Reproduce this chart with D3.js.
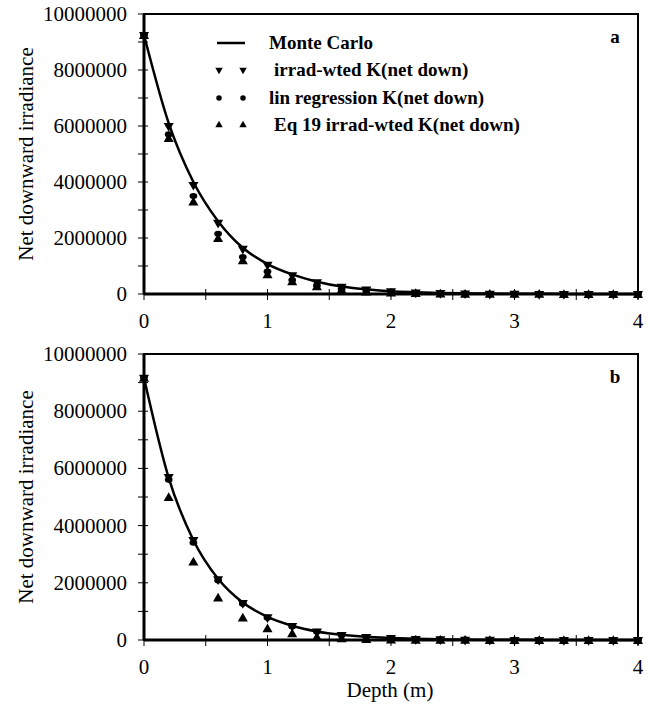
<!DOCTYPE html>
<html>
<head>
<meta charset="utf-8">
<script src="https://cdn.jsdelivr.net/npm/d3@7"></script>
<style>
  body { margin: 0; background: #fff; }
  svg { display: block; }
  text { font-family: "Liberation Serif", "Times New Roman", serif; fill: #000; }
</style>
</head>
<body>
<div id="chart"></div>
<script>
// depths (m)
var depth = [0, 0.2, 0.4, 0.6, 0.8, 1.0, 1.2, 1.4, 1.6, 1.8, 2.0, 2.2, 2.4, 2.6, 2.8, 3.0, 3.2, 3.4, 3.6, 3.8, 4.0];

// panel a
var mcA     = [9250000, 6100000, 4000000, 2600000, 1650000, 1070000, 700000, 440000, 270000, 170000, 100000, 65000, 40000, 25000, 15000, 10000, 6000, 4000, 2000, 1000, 1000];
var irradA  = [9250000, 6000000, 3900000, 2550000, 1620000, 1050000, 670000, 420000, 260000, 160000, 100000, 60000, 40000, 25000, 15000, 10000, 6000, 4000, 2000, 1000, 1000];
var linA    = [9250000, 5700000, 3500000, 2150000, 1320000, 800000, 500000, 300000, 180000, 110000, 65000, 40000, 24000, 14000, 8000, 5000, 3000, 2000, 1000, 1000, 0];
var eq19A   = [9250000, 5570000, 3300000, 2000000, 1200000, 700000, 450000, 270000, 160000, 90000, 50000, 30000, 18000, 10000, 6000, 4000, 2000, 1000, 1000, 0, 0];

// panel b
var mcB     = [9170000, 5670000, 3490000, 2140000, 1310000, 810000, 500000, 300000, 180000, 110000, 70000, 40000, 25000, 15000, 9000, 6000, 4000, 2000, 1000, 1000, 0];
var irradB  = [9170000, 5700000, 3500000, 2130000, 1300000, 800000, 490000, 300000, 180000, 110000, 70000, 40000, 25000, 15000, 9000, 6000, 4000, 2000, 1000, 1000, 0];
var linB    = [9170000, 5600000, 3400000, 2080000, 1270000, 780000, 470000, 290000, 170000, 105000, 65000, 38000, 23000, 14000, 8000, 5000, 3000, 2000, 1000, 0, 0];
var eq19B   = [9170000, 5000000, 2740000, 1480000, 780000, 410000, 230000, 110000, 60000, 30000, 15000, 8000, 4000, 2000, 1000, 0, 0, 0, 0, 0, 0];

var yTicks = [0, 2000000, 4000000, 6000000, 8000000, 10000000];
var xTicks = [0, 1, 2, 3, 4];
var legendLabels = ["Monte Carlo", "irrad-wted K(net down)", "lin regression K(net down)", "Eq 19 irrad-wted K(net down)"];

var svg = d3.select("#chart").append("svg")
    .attr("width", 666)
    .attr("height", 708);

var x = d3.scaleLinear().domain([0, 4]).range([144, 638]);

var symTri = d3.symbol().type(d3.symbolTriangle).size(44);
var symCircle = d3.symbol().type(d3.symbolCircle).size(36);

function drawPanel(top, bottom, mc, irrad, lin, eq19, letter, showLegend) {
  var y = d3.scaleLinear().domain([0, 10000000]).range([bottom, top]);
  var g = svg.append("g");

  // y ticks every 1e6, labels every 2e6
  var minorY = d3.range(0, 10000001, 1000000);
  g.selectAll(".ytick").data(minorY).enter().append("line")
      .attr("x1", x(0) - 6).attr("x2", x(0) + 4)
      .attr("y1", function(d) { return y(d); })
      .attr("y2", function(d) { return y(d); })
      .attr("stroke", "#000").attr("stroke-width", 1);
  g.selectAll(".ylab").data(yTicks).enter().append("text")
      .attr("x", x(0) - 17)
      .attr("y", function(d) { return y(d) + 7; })
      .attr("text-anchor", "end")
      .style("font-size", "21px")
      .text(function(d) { return d; });

  // x ticks every 0.5
  var minorX = d3.range(0, 4.01, 0.5);
  g.selectAll(".xtick").data(minorX).enter().append("line")
      .attr("x1", function(d) { return x(d); })
      .attr("x2", function(d) { return x(d); })
      .attr("y1", bottom - 5).attr("y2", bottom + 6)
      .attr("stroke", "#000").attr("stroke-width", 1);
  g.selectAll(".xlab").data(xTicks).enter().append("text")
      .attr("x", function(d) { return x(d); })
      .attr("y", bottom + 34)
      .attr("text-anchor", "middle")
      .style("font-size", "21px")
      .text(function(d) { return d; });

  // frame
  g.append("rect")
      .attr("x", x(0)).attr("y", top)
      .attr("width", x(4) - x(0)).attr("height", bottom - top)
      .attr("fill", "none").attr("stroke", "#000").attr("stroke-width", 2);
  g.append("line")
      .attr("x1", x(0)).attr("x2", x(0)).attr("y1", top).attr("y2", bottom)
      .attr("stroke", "#000").attr("stroke-width", 3);
  g.append("line")
      .attr("x1", x(0)).attr("x2", x(4)).attr("y1", bottom).attr("y2", bottom)
      .attr("stroke", "#000").attr("stroke-width", 3);

  // y axis title
  g.append("text")
      .attr("transform", "translate(" + 33 + "," + ((top + bottom) / 2) + ") rotate(-90)")
      .attr("text-anchor", "middle")
      .style("font-size", "21px")
      .text("Net downward irradiance");

  // Monte Carlo line
  var line = d3.line()
      .x(function(d, i) { return x(depth[i]); })
      .y(function(d) { return y(d); })
      .curve(d3.curveMonotoneX);
  g.append("path")
      .datum(mc)
      .attr("d", line)
      .attr("fill", "none")
      .attr("stroke", "#000")
      .attr("stroke-width", 2.5);

  // markers
  g.selectAll(".down").data(irrad).enter().append("path")
      .attr("d", symTri)
      .attr("transform", function(d, i) { return "translate(" + x(depth[i]) + "," + y(d) + ") rotate(180)"; })
      .attr("fill", "#000");
  g.selectAll(".circ").data(lin).enter().append("path")
      .attr("d", symCircle)
      .attr("transform", function(d, i) { return "translate(" + x(depth[i]) + "," + y(d) + ") scale(1.15,0.9)"; })
      .attr("fill", "#000");
  g.selectAll(".up").data(eq19).enter().append("path")
      .attr("d", symTri)
      .attr("transform", function(d, i) { return "translate(" + x(depth[i]) + "," + (y(d) + 1) + ")"; })
      .attr("fill", "#000");

  // panel letter
  g.append("text")
      .attr("x", 615).attr("y", top + 29)
      .attr("text-anchor", "middle")
      .style("font-size", "19px")
      .style("font-weight", "bold")
      .text(letter);

  if (showLegend) {
    var rows = [49, 76, 104, 131];
    var lg = svg.append("g");
    lg.append("line")
        .attr("x1", 217).attr("x2", 245).attr("y1", 43).attr("y2", 43)
        .attr("stroke", "#000").attr("stroke-width", 2.5);
    var smallTri = d3.symbol().type(d3.symbolTriangle).size(24);
    var smallCirc = d3.symbol().type(d3.symbolCircle).size(24);
    [219, 243].forEach(function(px) {
      lg.append("path").attr("d", smallTri)
          .attr("transform", "translate(" + px + "," + (rows[1] - 6) + ") rotate(180)");
      lg.append("path").attr("d", smallCirc)
          .attr("transform", "translate(" + px + "," + (rows[2] - 6) + ")");
      lg.append("path").attr("d", smallTri)
          .attr("transform", "translate(" + px + "," + (rows[3] - 6) + ")");
    });
    var textX = [269, 274, 269, 274];
    lg.selectAll(".lt").data(legendLabels).enter().append("text")
        .attr("x", function(d, i) { return textX[i]; })
        .attr("y", function(d, i) { return rows[i]; })
        .style("font-size", "19px")
        .style("font-weight", "bold")
        .text(function(d) { return d; });
  }
}

drawPanel(14, 294, mcA, irradA, linA, eq19A, "a", true);
drawPanel(354, 640, mcB, irradB, linB, eq19B, "b", false);

svg.append("text")
    .attr("x", 390).attr("y", 697)
    .attr("text-anchor", "middle")
    .style("font-size", "21px")
    .text("Depth (m)");
</script>
</body>
</html>
